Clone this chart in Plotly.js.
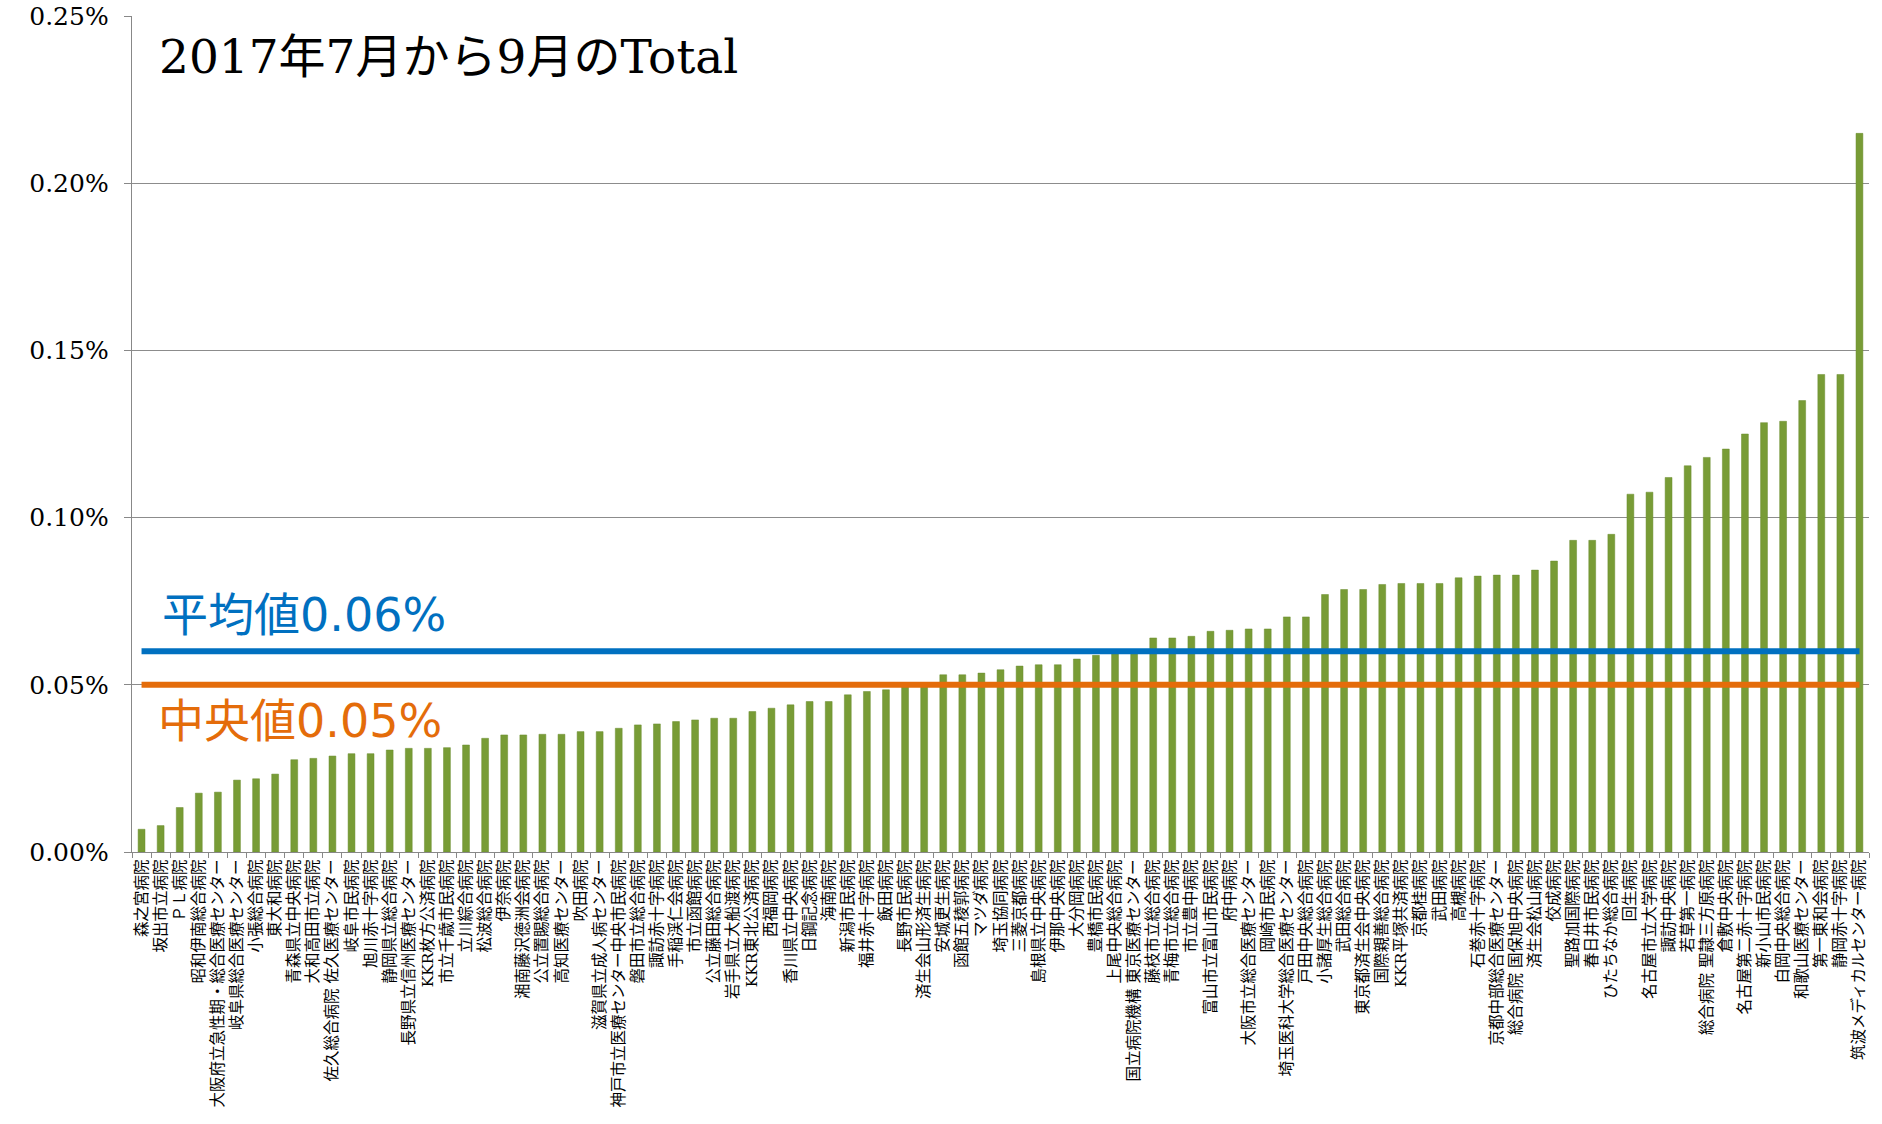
<!DOCTYPE html>
<html>
<head>
<meta charset="utf-8">
<script src="https://cdn.plot.ly/plotly-3.0.1.min.js"></script>
<style>html,body{margin:0;padding:0;background:#fff;}#chart{width:1882px;height:1124px;}</style>
</head>
<body>
<div id="chart"></div>
<script>
const hospitals = [
"森之宮病院","坂出市立病院","ＰＬ病院","昭和伊南総合病院","大阪府立急性期・総合医療センター",
"岐阜県総合医療センター","小張総合病院","東大和病院","青森県立中央病院","大和高田市立病院",
"佐久総合病院 佐久医療センター","岐阜市民病院","旭川赤十字病院","静岡県立総合病院","長野県立信州医療センター",
"KKR枚方公済病院","市立千歳市民病院","立川綜合病院","松波総合病院","伊奈病院",
"湘南藤沢徳洲会病院","公立置賜総合病院","高知医療センター","吹田病院","滋賀県立成人病センター",
"神戸市立医療センター中央市民病院","磐田市立総合病院","諏訪赤十字病院","手稲渓仁会病院","市立函館病院",
"公立藤田総合病院","岩手県立大船渡病院","KKR東北公済病院","西福岡病院","香川県立中央病院",
"日鋼記念病院","海南病院","新潟市民病院","福井赤十字病院","飯田病院",
"長野市民病院","済生会山形済生病院","安城更生病院","函館五稜郭病院","マツダ病院",
"埼玉協同病院","三菱京都病院","島根県立中央病院","伊那中央病院","大分岡病院",
"豊橋市民病院","上尾中央総合病院","国立病院機構 東京医療センター","藤枝市立総合病院","青梅市立総合病院",
"市立豊中病院","富山市立富山市民病院","府中病院","大阪市立総合医療センター","岡崎市民病院",
"埼玉医科大学総合医療センター","戸田中央総合病院","小諸厚生総合病院","武田総合病院","東京都済生会中央病院",
"国際親善総合病院","KKR平塚共済病院","京都桂病院","武田病院","高槻病院",
"石巻赤十字病院","京都中部総合医療センター","総合病院 国保旭中央病院","済生会松山病院","佼成病院",
"聖路加国際病院","春日井市民病院","ひたちなか総合病院","回生病院","名古屋市立大学病院",
"諏訪中央病院","若草第一病院","総合病院 聖隷三方原病院","倉敷中央病院","名古屋第二赤十字病院",
"新小山市民病院","白岡中央総合病院","和歌山医療センター","第一東和会病院","静岡赤十字病院",
"筑波メディカルセンター病院"
];
const rates = [
0.0068,0.0079,0.0133,0.0176,0.0179,0.0215,0.0219,0.0233,0.0276,0.0280,
0.0287,0.0294,0.0294,0.0305,0.0310,0.0310,0.0312,0.0320,0.0340,0.0350,
0.0350,0.0352,0.0352,0.0360,0.0360,0.0370,0.0380,0.0383,0.0390,0.0395,
0.0400,0.0400,0.0420,0.0430,0.0440,0.0450,0.0450,0.0470,0.0480,0.0485,
0.0495,0.0500,0.0530,0.0530,0.0535,0.0545,0.0556,0.0560,0.0560,0.0577,
0.0588,0.0595,0.0595,0.0640,0.0640,0.0645,0.0660,0.0663,0.0667,0.0667,
0.0703,0.0703,0.0770,0.0785,0.0785,0.0800,0.0803,0.0803,0.0803,0.0820,
0.0825,0.0828,0.0828,0.0843,0.0870,0.0932,0.0932,0.0950,0.1070,0.1076,
0.1120,0.1155,0.1180,0.1205,0.1250,0.1284,0.1288,0.1350,0.1428,0.1428,
0.2149
];
const meanValue = 0.06;
const medianValue = 0.05;
const meanLabel = "平均値0.06%";
const medianLabel = "中央値0.05%";
const chartTitle = "2017年7月から9月のTotal";
const yTicks = [0, 0.05, 0.10, 0.15, 0.20, 0.25];
const yTickText = yTicks.map(v => v.toFixed(2) + '%');

const firstCat = hospitals[0], lastCat = hospitals[hospitals.length - 1];

const data = [
  {
    type: 'bar', x: hospitals, y: rates,
    marker: {color: '#789c36', line: {color: '#6a8c2e', width: 0.5}},
    hoverinfo: 'x+y'
  },
  {
    type: 'scatter', mode: 'lines', x: [firstCat, lastCat], y: [meanValue, meanValue],
    line: {color: '#0070c0', width: 6}, hoverinfo: 'skip'
  },
  {
    type: 'scatter', mode: 'lines', x: [firstCat, lastCat], y: [medianValue, medianValue],
    line: {color: '#e46c0a', width: 6}, hoverinfo: 'skip'
  }
];

const layout = {
  width: 1882, height: 1124,
  paper_bgcolor: '#ffffff', plot_bgcolor: '#ffffff',
  margin: {l: 132, r: 13, t: 16, b: 272, pad: 0},
  showlegend: false,
  bargap: 0.64,
  title: {
    text: chartTitle,
    font: {family: 'DejaVu Serif, Noto Sans CJK JP', size: 47, color: '#000'},
    x: 159/1882, xanchor: 'left', xref: 'container',
    y: 1 - 57/1124, yanchor: 'middle', yref: 'container'
  },
  xaxis: {
    type: 'category',
    tickangle: -90,
    tickfont: {family: 'DejaVu Serif, Noto Sans CJK JP', size: 15.5, color: '#000'},
    ticks: 'outside', tickson: 'boundaries', ticklen: 5, tickcolor: '#888',
    showline: true, linecolor: '#888', linewidth: 1.3,
    showgrid: false, automargin: false
  },
  yaxis: {
    range: [0, 0.25],
    tickmode: 'array', tickvals: yTicks, ticktext: yTickText,
    tickfont: {family: 'DejaVu Serif', size: 25, color: '#000'},
    ticks: 'outside', ticklen: 7, tickcolor: '#888',
    ticklabelstandoff: 10,
    showline: true, linecolor: '#888', linewidth: 1.3,
    showgrid: true, gridcolor: '#8c8c8c', gridwidth: 1.3,
    zeroline: false, automargin: false
  },
  annotations: [
    {
      xref: 'paper', x: (160 - 132) / 1737, xanchor: 'left',
      yref: 'y', y: meanValue, yshift: 36, yanchor: 'middle',
      text: meanLabel, showarrow: false,
      font: {family: 'DejaVu Sans, Noto Sans CJK JP', size: 46, color: '#0070c0'}
    },
    {
      xref: 'paper', x: (156 - 132) / 1737, xanchor: 'left',
      yref: 'y', y: medianValue, yshift: -36, yanchor: 'middle',
      text: medianLabel, showarrow: false,
      font: {family: 'DejaVu Sans, Noto Sans CJK JP', size: 46, color: '#e46c0a'}
    }
  ]
};

Plotly.newPlot('chart', data, layout, {displayModeBar: false, staticPlot: true});
</script>
</body>
</html>
